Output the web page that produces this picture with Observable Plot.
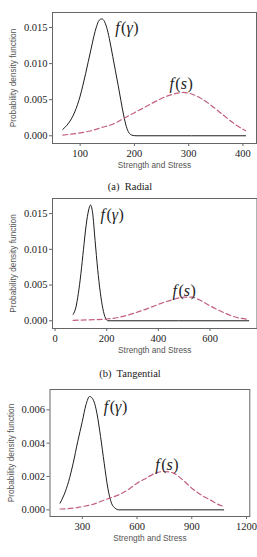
<!DOCTYPE html>
<html>
<head>
<meta charset="utf-8">
<script src="https://cdn.jsdelivr.net/npm/d3@7"></script>
<script src="https://cdn.jsdelivr.net/npm/@observablehq/plot@0.6"></script>
<style>
  html, body { margin: 0; padding: 0; background: #fff; }
  #chart { position: relative; width: 257px; height: 557px; overflow: hidden; }
  #chart svg { position: absolute; left: 0; }
  .caption { position: absolute; left: 0; width: 260px; text-align: center;
             font-family: "Liberation Serif", "Times New Roman", serif; font-size: 10.5px;
             color: #222; white-space: pre; line-height: 12px; }
</style>
</head>
<body>
<div id="chart"></div>
<script>
// Radial: stress density f(γ) and strength density f(s)
const gammaRadialX = [68, 75, 80, 85, 90, 95, 100, 105, 110, 115, 120, 125, 130, 135, 140, 145, 150, 155, 160, 165, 170, 175, 180, 185, 190, 195, 200, 205, 405];
const gammaRadialY = [0.0009, 0.0014, 0.0019, 0.0025, 0.0033, 0.0043, 0.0055, 0.0070, 0.0086, 0.0103, 0.0120, 0.0137, 0.0151, 0.0160, 0.0162, 0.0158, 0.0147, 0.0130, 0.0110, 0.0090, 0.0070, 0.0049, 0.0029, 0.0013, 0.0004, 0.0001, 0.00002, 0, 0];
const strengthRadialX = [68, 80, 100, 120, 140, 160, 180, 200, 220, 240, 260, 280, 290, 300, 320, 340, 360, 380, 400, 405];
const strengthRadialY = [0.0001, 0.0002, 0.0004, 0.0007, 0.00115, 0.0016, 0.0024, 0.0032, 0.0040, 0.0048, 0.0055, 0.0059, 0.0060, 0.0059, 0.0053, 0.0043, 0.0031, 0.0019, 0.0009, 0.0007];

// Tangential
const gammaTangX = [70, 80, 90, 100, 110, 120, 130, 137, 145, 155, 165, 175, 185, 195, 205, 750];
const gammaTangY = [0.0009, 0.0018, 0.0038, 0.0066, 0.0100, 0.0133, 0.0155, 0.0162, 0.0152, 0.0112, 0.0072, 0.0040, 0.0017, 0.0004, 0, 0];
const strengthTangX = [70, 100, 150, 200, 250, 300, 350, 400, 450, 500, 530, 560, 600, 650, 700, 750];
const strengthTangY = [0.00005, 0.0001, 0.00015, 0.00025, 0.0005, 0.0010, 0.0016, 0.0023, 0.0029, 0.0033, 0.0033, 0.0029, 0.0021, 0.0012, 0.0005, 0.0002];

// Third direction
const gammaThirdX = [178, 200, 225, 250, 275, 300, 320, 340, 360, 380, 400, 420, 440, 460, 480, 500, 1075];
const gammaThirdY = [0.0004, 0.0009, 0.0017, 0.0028, 0.0041, 0.0053, 0.0063, 0.0068, 0.0066, 0.0058, 0.0044, 0.0028, 0.0013, 0.0004, 0.0001, 0, 0];
const strengthThirdX = [178, 250, 300, 350, 400, 450, 500, 550, 600, 650, 700, 750, 800, 850, 900, 950, 1000, 1050, 1075];
const strengthThirdY = [0.00005, 0.0001, 0.0002, 0.0003, 0.0005, 0.0007, 0.0009, 0.0012, 0.0016, 0.0019, 0.0022, 0.0023, 0.0022, 0.0018, 0.0013, 0.0009, 0.0006, 0.0003, 0.0002];

// Axis ticks
const xTicksRadial = [100, 200, 300, 400];
const xTicksTang = [0, 200, 400, 600];
const xTicksThird = [300, 600, 900, 1200];
const yTicksWide = [0, 0.005, 0.010, 0.015];
const yTicksNarrow = [0, 0.002, 0.004, 0.006];

// Curve annotations
const labelText = ["f(γ)", "f(s)"];
const labelRadialX = [186, 286], labelRadialY = [0.0150, 0.0072];
const labelTangX = [221, 500], labelTangY = [0.0148, 0.0042];
const labelThirdX = [482, 764], labelThirdY = [0.00616, 0.00272];

const xTitle = "Strength and Stress";
const yTitle = "Probability density function";
const captions = ["(a)  Radial", "(b)  Tangential"];

const pts = (xs, ys) => xs.map((x, i) => ({x, y: ys[i]}));

function panel({top, height, marginLeft, marginRight, xDomain, xTicks, yDomain, yTicks,
                gammaX, gammaY, strengthX, strengthY, labX, labY}) {
  const marginTop = 12, marginBottom = 32;
  const labels = labelText.map((t, i) => ({t, x: labX[i], y: labY[i]}));
  const svg = Plot.plot({
    width: 257, height, marginTop, marginBottom, marginLeft, marginRight,
    style: {fontFamily: "'Liberation Serif', serif", fontSize: "10.5px", color: "#222", background: "transparent"},
    x: {domain: xDomain},
    y: {domain: yDomain},
    marks: [
      Plot.axisX({ticks: xTicks, tickSize: 3, tickPadding: 3, stroke: "#666", tickFormat: d3.format("d"), label: null}),
      Plot.axisY({ticks: yTicks, tickSize: 3, tickPadding: 2, stroke: "#666", tickFormat: d3.format(".3f"), label: null}),
      Plot.line(pts(gammaX, gammaY), {x: "x", y: "y", stroke: "#1e1e1e", strokeWidth: 1, curve: "monotone-x"}),
      Plot.line(pts(strengthX, strengthY), {x: "x", y: "y", stroke: "#c25f7f", strokeWidth: 1.2,
        strokeDasharray: "5,3", curve: "monotone-x"}),
      Plot.frame({stroke: "#666", strokeWidth: 1}),
      Plot.text(labels, {x: "x", y: "y", text: "t", fontFamily: "'Liberation Serif', serif",
        fontSize: 16, fill: "#222"}),
      Plot.text([xTitle], {text: d => d, frameAnchor: "bottom", dy: 24, textAnchor: "middle",
        fontFamily: "'Liberation Sans', sans-serif", fontSize: 8.3, fill: "#555"}),
      Plot.text([yTitle], {text: d => d, frameAnchor: "left", dx: -39, rotate: -90, textAnchor: "middle",
        fontFamily: "'Liberation Sans', sans-serif", fontSize: 8.3, fill: "#555"})
    ]
  });
  // Italic function letters with upright, slightly spaced parentheses
  d3.select(svg).selectAll("text").each(function () {
    const m = this.textContent.match(/^f\((.)\)$/);
    if (!m) return;
    const sel = d3.select(this).text(null);
    sel.append("tspan").attr("font-style", "italic").text("f");
    sel.append("tspan").attr("dx", 1.5).text("(");
    sel.append("tspan").attr("font-style", "italic").text(m[1]);
    sel.append("tspan").attr("dx", 0.5).text(")");
  });
  svg.style.top = top + "px";
  return svg;
}

const chart = document.getElementById("chart");

chart.appendChild(panel({
  top: 0, height: 175, marginLeft: 52, marginRight: 1,
  xDomain: [49, 425], xTicks: xTicksRadial, yDomain: [-0.00107, 0.01708], yTicks: yTicksWide,
  gammaX: gammaRadialX, gammaY: gammaRadialY, strengthX: strengthRadialX, strengthY: strengthRadialY,
  labX: labelRadialX, labY: labelRadialY
}));

chart.appendChild(panel({
  top: 186, height: 174, marginLeft: 52, marginRight: 0.5,
  xDomain: [-10, 782], xTicks: xTicksTang, yDomain: [-0.00108, 0.01711], yTicks: yTicksWide,
  gammaX: gammaTangX, gammaY: gammaTangY, strengthX: strengthTangX, strengthY: strengthTangY,
  labX: labelTangX, labY: labelTangY
}));

chart.appendChild(panel({
  top: 377, height: 171, marginLeft: 49.5, marginRight: 7.7,
  xDomain: [123, 1218], xTicks: xTicksThird, yDomain: [-0.0004, 0.00722], yTicks: yTicksNarrow,
  gammaX: gammaThirdX, gammaY: gammaThirdY, strengthX: strengthThirdX, strengthY: strengthThirdY,
  labX: labelThirdX, labY: labelThirdY
}));

[[captions[0], 181], [captions[1], 368]].forEach(([t, y]) => {
  const d = document.createElement("div");
  d.className = "caption";
  d.style.top = y + "px";
  d.textContent = t;
  chart.appendChild(d);
});
</script>
</body>
</html>
